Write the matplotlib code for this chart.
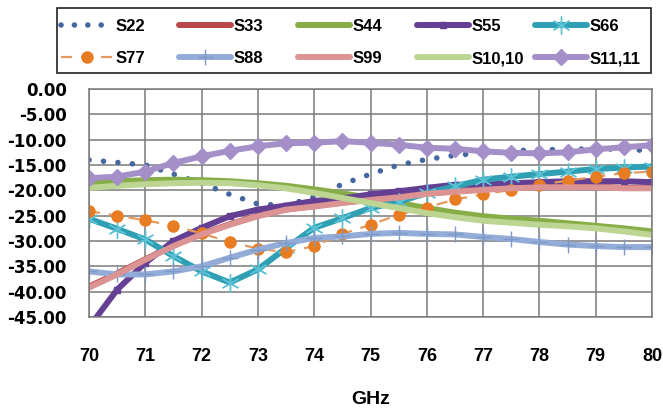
import matplotlib
matplotlib.use("Agg")
import matplotlib.pyplot as plt
from matplotlib.lines import Line2D
from matplotlib.patches import Rectangle

# Frequency axis (GHz), 0.5 GHz steps
freq = [70.0, 70.5, 71.0, 71.5, 72.0, 72.5, 73.0, 73.5, 74.0, 74.5, 75.0,
        75.5, 76.0, 76.5, 77.0, 77.5, 78.0, 78.5, 79.0, 79.5, 80.0]

# Reflection coefficients (dB)
s22 = [-14.0, -14.5, -15.0, -16.8, -18.6, -20.8, -22.7, -23.0, -21.3, -18.8, -16.8,
       -15.0, -13.9, -13.1, -12.6, -12.2, -12.0, -11.9, -11.8, -11.9, -12.2]
s33 = [-39.0, -36.4, -33.6, -30.9, -28.6, -26.7, -25.0, -23.8, -23.1, -22.4, -21.8,
       -21.3, -20.6, -20.2, -19.8, -19.5, -19.3, -19.3, -19.3, -19.5, -19.5]
s44 = [-18.5, -18.2, -18.0, -17.9, -18.0, -18.2, -18.6, -19.1, -19.8, -20.6, -21.5,
       -22.5, -23.5, -24.4, -25.1, -25.6, -26.0, -26.5, -27.0, -27.5, -28.1]
s55 = [-47.0, -39.6, -34.3, -30.0, -27.4, -25.1, -23.8, -23.0, -22.1, -21.6, -20.8,
       -20.2, -19.5, -18.9, -18.9, -18.6, -18.4, -18.2, -18.2, -18.2, -18.4]
s66 = [-25.6, -27.6, -29.7, -33.0, -36.0, -38.2, -35.6, -31.4, -27.4, -25.5, -23.5,
       -22.3, -20.5, -19.2, -17.9, -17.3, -16.8, -16.3, -15.8, -15.5, -15.3]
s77 = [-24.1, -25.0, -25.9, -27.0, -28.5, -30.2, -31.5, -32.2, -31.0, -28.6, -26.8,
       -24.8, -23.4, -21.8, -20.8, -19.9, -18.9, -18.1, -17.3, -16.6, -16.3]
s88 = [-36.0, -36.6, -36.6, -36.0, -35.0, -33.3, -31.7, -30.4, -29.4, -29.1, -28.6,
       -28.4, -28.6, -28.7, -29.2, -29.6, -30.2, -30.7, -31.0, -31.2, -31.2]
s99 = [-39.2, -36.6, -33.7, -31.0, -28.7, -26.8, -25.1, -23.8, -23.2, -22.5, -21.9,
       -21.4, -20.7, -20.3, -19.9, -19.6, -19.4, -19.4, -19.4, -19.6, -19.6]
s1010 = [-19.5, -19.1, -18.8, -18.6, -18.5, -18.6, -19.0, -19.6, -20.5, -21.5, -22.5,
         -23.5, -24.5, -25.3, -26.0, -26.4, -26.8, -27.1, -27.5, -28.1, -28.8]
s1111 = [-17.6, -17.3, -16.3, -14.6, -13.3, -12.2, -11.3, -10.7, -10.6, -10.3, -10.6,
         -11.0, -11.6, -11.8, -12.3, -12.6, -12.7, -12.5, -11.9, -11.5, -11.1]

series_names = ["S22", "S33", "S44", "S55", "S66", "S77", "S88", "S99", "S10,10", "S11,11"]
series_values = [s22, s33, s44, s55, s66, s77, s88, s99, s1010, s1111]

y_ticks = [0, -5, -10, -15, -20, -25, -30, -35, -40, -45]
x_ticks = [70, 71, 72, 73, 74, 75, 76, 77, 78, 79, 80]

LW = 4.3
styles = {
    "S22": dict(color="#44679f", lw=4.0, linestyle=(0, (0.01, 2.6)),
                dash_capstyle="round", solid_capstyle="round"),
    "S33": dict(color="#b8484a", lw=LW, solid_capstyle="round"),
    "S44": dict(color="#86ad46", lw=LW, solid_capstyle="round"),
    "S55": dict(color="#643f93", lw=LW, marker="s", ms=5, solid_capstyle="round"),
    "S66": dict(color="#2fa0b4", lw=LW, marker=(6, 2, 0), ms=13, mew=1.0,
                mec="#5cc3d6", solid_capstyle="round"),
    "S77": dict(color="#e49a5f", lw=1.6, linestyle=(0, (5, 4)), marker="o", ms=8,
                mfc="#e87c22", mec="#e87c22"),
    "S88": dict(color="#93acd8", lw=LW, marker="+", ms=12, mew=1.0,
                mec="#7e98c8", solid_capstyle="round"),
    "S99": dict(color="#dc9393", lw=LW, solid_capstyle="round"),
    "S10,10": dict(color="#bcd592", lw=LW, solid_capstyle="round"),
    "S11,11": dict(color="#a58fc8", lw=LW, marker="D", ms=8,
                   solid_capstyle="round"),
}

W, H = 663, 411
fig = plt.figure(figsize=(W / 100, H / 100), dpi=100)
ax = fig.add_axes([89 / W, 1 - 317 / H, (652 - 89) / W, (317 - 89) / H])

for name, vals in zip(series_names, series_values):
    ax.plot(freq, vals, label=name, **styles[name])

ax.set_xlim(70, 80)
ax.set_ylim(-45, 0)
ax.set_xticks(x_ticks)
ax.set_yticks(y_ticks)
ax.set_yticklabels([f"{v:.2f}" if v != 0 else "0.00" for v in y_ticks],
                   fontfamily="DejaVu Sans", fontweight="bold", fontsize=12)
ax.set_xticklabels([str(v) for v in x_ticks],
                   fontfamily="Liberation Sans", fontweight="bold", fontsize=13)
ax.tick_params(axis="both", length=0)
ax.tick_params(axis="y", pad=16)
ax.tick_params(axis="x", pad=22)
ax.grid(True, color="#7a7a7a", lw=1.1)
ax.set_axisbelow(True)
for sp in ax.spines.values():
    sp.set_color("#7a7a7a")
    sp.set_linewidth(1.1)

ax.set_xlabel("GHz", fontfamily="Liberation Sans", fontweight="bold",
              fontsize=14, labelpad=19)

# Legend: a framed box holding five fixed-width columns of two entries each
fig.add_artist(Rectangle((57 / W, 1 - 73 / H), (651 - 57) / W, (73 - 8) / H,
                         transform=fig.transFigure, fill=False,
                         edgecolor="#222222", lw=1.2))
columns = [["S22", "S77"], ["S33", "S88"], ["S44", "S99"],
           ["S55", "S10,10"], ["S66", "S11,11"]]
col_x = [61, 179, 298, 417, 535]
for xpix, names in zip(col_x, columns):
    hs = []
    for name in names:
        st = dict(styles[name])
        if name == "S22":
            st["linestyle"] = (0, (0.01, 2.4))
        hs.append(Line2D([], [], **st))
    leg = fig.legend(hs, names, loc="upper left",
                     bbox_to_anchor=(xpix / W, 1 - 19 / H),
                     frameon=False, borderpad=0, borderaxespad=0,
                     handlelength=3.1, handletextpad=0.2, labelspacing=1.02,
                     prop=dict(family="Liberation Sans", weight="bold", size=12))

fig.savefig("out.png", dpi=100)
